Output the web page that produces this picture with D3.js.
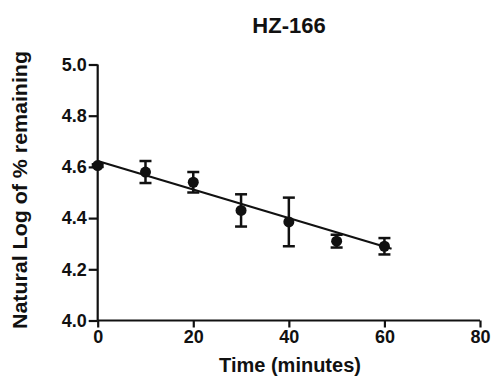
<!DOCTYPE html>
<html>
<head>
<meta charset="utf-8">
<script src="https://cdn.jsdelivr.net/npm/d3@7"></script>
<style>
  body { margin: 0; background: #fff; }
  svg text { font-family: "Liberation Sans", Arial, sans-serif; font-weight: bold; fill: #111; }
</style>
</head>
<body>
<svg width="493" height="378"></svg>
<script>
/* values */
var times = [0, 10, 20, 30, 40, 50, 60];
var means = [4.605, 4.58, 4.54, 4.43, 4.385, 4.31, 4.29];
var errors = [0.005, 0.043, 0.04, 0.063, 0.095, 0.025, 0.032];

/* fitted line, two ends */
var fitX = [0, 61.5];
var fitY = [4.623, 4.280];

var xTicks = [0, 20, 40, 60, 80];
var yTicks = [4.0, 4.2, 4.4, 4.6, 4.8, 5.0];

var svg = d3.select("svg"),
    margin = {top: 64.5, right: 13, bottom: 57.5, left: 97.7},
    width = +svg.attr("width") - margin.left - margin.right,
    height = +svg.attr("height") - margin.top - margin.bottom;

var x = d3.scaleLinear().domain([0, 80]).range([0, width]),
    y = d3.scaleLinear().domain([4.0, 5.0]).range([height, 0]);

var g = svg.append("g")
    .attr("transform", "translate(" + margin.left + "," + margin.top + ")");

/* axes */
var xAxis = g.append("g")
    .attr("transform", "translate(0," + height + ")")
    .call(d3.axisBottom(x).tickValues(xTicks).tickSize(7).tickPadding(3).tickFormat(d3.format("d")));

var yAxis = g.append("g")
    .call(d3.axisLeft(y).tickValues(yTicks).tickSize(9).tickPadding(2).tickFormat(d3.format(".1f")));

[xAxis, yAxis].forEach(function(a) {
  a.select(".domain").attr("stroke", "#111").attr("stroke-width", 2.2);
  a.selectAll(".tick line").attr("stroke", "#111").attr("stroke-width", 2.2);
  a.selectAll(".tick text").attr("fill", "#111").style("font-size", "18px").style("font-weight", "bold");
});
/* flat ends, no outer ticks */
xAxis.select(".domain").attr("d", "M0,0H" + width);
yAxis.select(".domain").attr("d", "M0," + height + "V0");

/* fitted line */
g.append("line")
    .attr("x1", x(fitX[0])).attr("y1", y(fitY[0]))
    .attr("x2", x(fitX[1])).attr("y2", y(fitY[1]))
    .attr("stroke", "#111")
    .attr("stroke-width", 2.2);

var points = times.map(function(t, i) { return {t: t, m: means[i], e: errors[i]}; });

/* error bars */
var bars = g.selectAll(".err")
  .data(points)
  .enter().append("g")
    .attr("class", "err");

bars.append("line")
    .attr("x1", function(d) { return x(d.t); })
    .attr("x2", function(d) { return x(d.t); })
    .attr("y1", function(d) { return y(d.m + d.e); })
    .attr("y2", function(d) { return y(d.m - d.e); })
    .attr("stroke", "#111").attr("stroke-width", 2.5);

bars.selectAll(".cap")
  .data(function(d) { return [d.m + d.e, d.m - d.e].map(function(v) { return {t: d.t, v: v}; }); })
  .enter().append("line")
    .attr("class", "cap")
    .attr("x1", function(d) { return x(d.t) - 6; })
    .attr("x2", function(d) { return x(d.t) + 6; })
    .attr("y1", function(d) { return y(d.v); })
    .attr("y2", function(d) { return y(d.v); })
    .attr("stroke", "#111").attr("stroke-width", 2.5);

/* markers */
g.selectAll(".dot")
  .data(points)
  .enter().append("circle")
    .attr("class", "dot")
    .attr("cx", function(d) { return x(d.t); })
    .attr("cy", function(d) { return y(d.m); })
    .attr("r", 5.5)
    .attr("fill", "#111");

/* titles */
svg.append("text")
    .attr("x", 289).attr("y", 33)
    .attr("text-anchor", "middle")
    .style("font-size", "22px")
    .text("HZ-166");

svg.append("text")
    .attr("x", 290).attr("y", 372)
    .attr("text-anchor", "middle")
    .style("font-size", "20px")
    .text("Time (minutes)");

svg.append("text")
    .attr("transform", "translate(27,190) rotate(-90)")
    .attr("text-anchor", "middle")
    .style("font-size", "20px")
    .attr("textLength", 278)
    .attr("lengthAdjust", "spacingAndGlyphs")
    .text("Natural Log of % remaining");
</script>
</body>
</html>
